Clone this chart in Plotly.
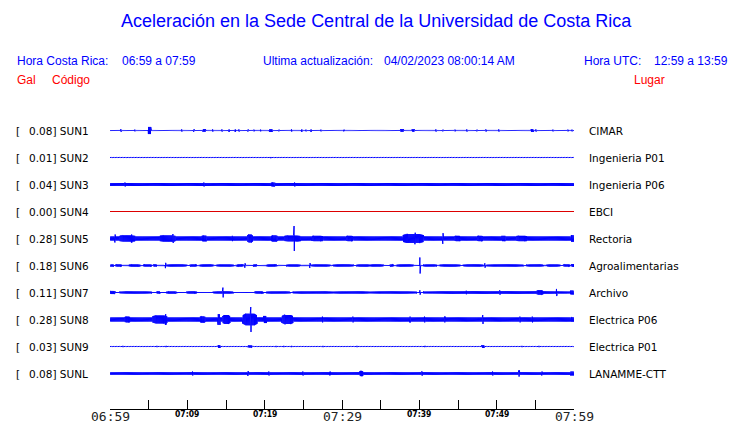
import numpy as np
import plotly.graph_objects as go

# ---------------- data ----------------
codes = ["SUN1", "SUN2", "SUN3", "SUN4", "SUN5", "SUN6", "SUN7", "SUN8", "SUN9", "SUNL"]
gal_max = [0.08, 0.01, 0.04, 0.00, 0.28, 0.18, 0.11, 0.28, 0.03, 0.08]
places = ["CIMAR", "Ingenieria P01", "Ingenieria P06", "EBCI", "Rectoria",
          "Agroalimentarias", "Archivo", "Electrica P06", "Electrica P01", "LANAMME-CTT"]
# background (noise) envelope of every trace, Gal
base_gal = [0.004, 0.002, 0.033, 0.0, 0.046, 0.008, 0.010, 0.046, 0.002, 0.028]

# envelope events: (start minute, end minute, peak Gal); minutes after 06:59
SUN1_ev = [(1.42, 1.42, 0.03), (3.23, 3.23, 0.02), (5.0, 5.25, 0.08), (9.27, 9.27, 0.025),
           (10.86, 10.86, 0.03), (12.05, 12.3, 0.03), (13.3, 13.3, 0.025), (14.5, 14.5, 0.025),
           (15.4, 15.4, 0.025), (16.2, 16.2, 0.025), (16.7, 16.7, 0.025), (17.85, 17.85, 0.025),
           (18.6, 18.6, 0.02), (19.5, 19.5, 0.02), (20.65, 20.95, 0.03), (21.85, 21.85, 0.02),
           (23.5, 23.5, 0.025), (24.8, 24.8, 0.025), (25.35, 25.35, 0.02), (26.0, 26.0, 0.025),
           (27.3, 27.3, 0.02), (30.25, 30.25, 0.02), (37.6, 37.9, 0.03), (39.1, 39.3, 0.03),
           (42.15, 42.15, 0.025), (43.05, 43.05, 0.02), (44.6, 44.6, 0.02), (46.15, 46.15, 0.025),
           (47.45, 47.45, 0.02), (48.6, 48.6, 0.025), (50.3, 50.3, 0.025), (54.45, 54.75, 0.03),
           (55.1, 55.1, 0.025), (57.3, 57.3, 0.02), (59.2, 59.2, 0.02), (59.75, 59.75, 0.02)]
SUN2_ev = [(20.8, 20.8, 0.012)]
SUN3_ev = [(1.94, 1.94, 0.045), (12.16, 12.16, 0.045), (20.9, 21.3, 0.045), (23.9, 23.9, 0.045)]
SUN4_ev = []
SUN5_ev = [(0.65, 0.65, 0.09), (1.3, 3.2, 0.07), (2.8, 2.8, 0.09), (6.5, 8.4, 0.07),
           (8.15, 8.15, 0.10), (11.9, 12.5, 0.065), (15.8, 15.8, 0.06), (17.8, 18.4, 0.09),
           (20.9, 21.6, 0.07), (22.6, 24.6, 0.065), (23.8, 23.8, 0.28), (26.1, 27.5, 0.06),
           (30.6, 31.4, 0.06), (37.9, 40.5, 0.10), (39.45, 39.45, 0.13), (43.06, 43.06, 0.12),
           (44.6, 45.3, 0.06), (47.5, 48.2, 0.06), (50.7, 51.1, 0.06), (52.6, 53.9, 0.06),
           (59.7, 60.0, 0.075)]
SUN6_ev = [(0.13, 0.43, 0.025), (0.73, 1.51, 0.025), (2.46, 3.88, 0.025), (4.31, 5.39, 0.025),
           (5.6, 6.04, 0.025), (7.2, 7.2, 0.06), (7.33, 9.92, 0.025), (10.34, 11.2, 0.025),
           (11.64, 13.36, 0.025), (13.8, 15.94, 0.025), (16.38, 17.24, 0.025), (17.46, 17.46, 0.05),
           (18.53, 18.97, 0.025), (20.26, 21.56, 0.025), (22.85, 24.57, 0.025), (25.86, 25.86, 0.055),
           (26.08, 28.45, 0.025), (28.88, 31.46, 0.025), (31.9, 33.62, 0.025), (33.62, 35.34, 0.025),
           (36.2, 36.64, 0.025), (37.07, 39.22, 0.025), (40.09, 40.09, 0.18), (40.52, 42.24, 0.025),
           (42.67, 45.26, 0.025), (45.69, 48.27, 0.025), (48.49, 48.49, 0.05), (48.7, 53.45, 0.025),
           (53.88, 56.03, 0.025), (56.47, 58.19, 0.025), (58.62, 59.49, 0.025), (59.7, 60.0, 0.03)]
SUN7_ev = [(0.0, 0.65, 0.035), (1.29, 5.39, 0.025), (6.04, 6.47, 0.025), (7.33, 8.62, 0.025),
           (9.92, 11.2, 0.025), (13.36, 15.94, 0.025), (14.6, 14.6, 0.11), (18.75, 19.83, 0.025),
           (20.26, 23.28, 0.025), (23.7, 28.88, 0.025), (28.88, 33.62, 0.025), (33.62, 39.66, 0.025),
           (40.1, 40.1, 0.05), (40.52, 59.49, 0.028), (46.1, 46.1, 0.04), (50.43, 50.43, 0.05),
           (55.17, 56.03, 0.05), (57.76, 57.76, 0.08), (59.5, 60.0, 0.045)]
SUN8_ev = [(1.94, 2.59, 0.065), (5.56, 7.37, 0.09), (7.2, 7.2, 0.12), (11.64, 12.28, 0.07),
           (13.97, 14.22, 0.12), (14.6, 15.5, 0.10), (17.2, 19.0, 0.13), (18.2, 18.2, 0.28),
           (19.9, 20.2, 0.08), (22.24, 23.66, 0.10), (22.6, 22.6, 0.11), (27.5, 27.5, 0.065),
           (31.4, 31.4, 0.065), (38.8, 38.8, 0.065), (40.7, 40.7, 0.065), (43.3, 43.3, 0.065),
           (48.2, 48.2, 0.10), (53.0, 53.0, 0.065), (54.6, 54.6, 0.065), (59.7, 60.0, 0.05)]
SUN9_ev = [(1.68, 1.68, 0.015), (6.08, 6.08, 0.015), (7.24, 7.24, 0.015), (14.0, 14.2, 0.03),
           (17.85, 18.4, 0.025), (21.47, 21.47, 0.015), (22.5, 22.5, 0.015), (23.5, 23.5, 0.015),
           (27.54, 27.54, 0.015), (31.94, 31.94, 0.015), (40.73, 40.73, 0.015), (48.1, 48.35, 0.03),
           (53.28, 53.28, 0.015), (55.48, 55.48, 0.015)]
SUNL_ev = [(10.7, 10.7, 0.045), (17.85, 17.85, 0.055), (20.56, 20.56, 0.045), (24.96, 24.96, 0.045),
           (28.45, 28.45, 0.045), (32.3, 32.7, 0.06), (40.35, 40.35, 0.05), (49.5, 49.5, 0.045),
           (52.9, 52.9, 0.07), (55.86, 55.86, 0.045), (59.6, 60.0, 0.045)]
events = [SUN1_ev, SUN2_ev, SUN3_ev, SUN4_ev, SUN5_ev, SUN6_ev, SUN7_ev, SUN8_ev, SUN9_ev, SUNL_ev]

trace_colors = ["#0000ff", "#0000ff", "#0000ff", "#dd0000", "#0000ff",
                "#0000ff", "#0000ff", "#0000ff", "#0000ff", "#0000ff"]

tick_minutes = list(range(0, 61, 5))
label_minutes = [0, 10, 20, 30, 40, 50, 60]
label_texts = ["06:59", "07:09", "07:19", "07:29", "07:39", "07:49", "07:59"]
major_ticks = ["06:59", "07:29", "07:59"]

title = "Aceleración en la Sede Central de la Universidad de Costa Rica"

# ---------------- figure ----------------
W, H = 740, 423
L, R, T, B = 110, 166, 100, 14
ROW_GAP = 1.0          # one row per station in y units
GAL_SCALE = 1.65       # y units per Gal (common amplitude scale for all traces)
PX_PER_ROW = 27.0
ROW0_PX = 130.5

step = 1.0 / 30.0
t = np.arange(0.0, 60.0 + step / 2, step)
sign = np.where(np.arange(t.size) % 2 == 0, 1.0, -1.0)

fig = go.Figure()
for i, code in enumerate(codes):
    base = base_gal[i]
    env = np.full(t.size, base)
    for (t0, t1, amp) in events[i]:
        half = (t1 - t0) / 2.0
        mid = (t0 + t1) / 2.0
        if half < 0.2:
            m = np.abs(t - mid) <= half + step * 1.01
            env[m] = np.maximum(env[m], amp)
        else:
            # burst: flat top with tapered ends
            d = np.abs(t - mid)
            m = d <= half + step
            shape = base + (amp - base) * np.clip(1.6 - d[m] / half, 0.35, 1.0)
            env[m] = np.maximum(env[m], shape)
    y = -i * ROW_GAP + GAL_SCALE * env * sign
    fig.add_trace(go.Scatter(x=t, y=y, mode="lines",
                             line=dict(color=trace_colors[i], width=1),
                             hoverinfo="skip", showlegend=False))


def px_x(x):
    return (x - L) / (W - L - R)


def px_y(y):
    return (H - B - y) / (H - T - B)


lab_font = dict(family="DejaVu Sans", size=10.5, color="black")
ann = []
for i, code in enumerate(codes):
    yrow = -i * ROW_GAP
    ann.append(dict(x=px_x(14), y=yrow, xref="paper", yref="y", text="[",
                    xanchor="left", yanchor="middle", showarrow=False, font=lab_font))
    ann.append(dict(x=px_x(27), y=yrow, xref="paper", yref="y",
                    text=f"{gal_max[i]:.2f}] {code}",
                    xanchor="left", yanchor="middle", showarrow=False, font=lab_font))
    ann.append(dict(x=px_x(587), y=yrow, xref="paper", yref="y", text=places[i],
                    xanchor="left", yanchor="middle", showarrow=False, font=lab_font))

hdr_font = dict(family="Liberation Sans", size=12, color="#0000ff")
red_font = dict(family="Liberation Sans", size=12, color="#ff0000")
for (x, y, txt, f) in [(15, 61, "Hora Costa Rica:", hdr_font), (120, 61, "06:59 a 07:59", hdr_font),
                       (261, 61, "Ultima actualización:", hdr_font),
                       (382, 61, "04/02/2023 08:00:14 AM", hdr_font),
                       (582, 61, "Hora UTC:", hdr_font), (652, 61, "12:59 a 13:59", hdr_font),
                       (15, 80, "Gal", red_font), (50, 80, "Código", red_font),
                       (632, 80, "Lugar", red_font)]:
    ann.append(dict(x=px_x(x), y=px_y(y), xref="paper", yref="paper", text=txt,
                    xanchor="left", yanchor="middle", showarrow=False, font=f))
ann.append(dict(x=px_x(376), y=px_y(21), xref="paper", yref="paper", text=title,
                xanchor="center", yanchor="middle", showarrow=False,
                font=dict(family="Liberation Sans", size=18, color="#0000ff")))

# time labels under the axis (two sizes, like the reference)
for xm, lab in zip(label_minutes, label_texts):
    if lab in major_ticks:
        f = dict(family="DejaVu Sans Mono", size=13, color="#222222")
        yc = 416
    else:
        f = dict(family="DejaVu Sans Condensed", size=8.5, color="black", weight="bold")
        yc = 414
    ann.append(dict(x=xm, y=px_y(yc), xref="x", yref="paper", text=lab,
                    xanchor="center", yanchor="middle", showarrow=False, font=f))

fig.update_layout(
    width=W, height=H,
    margin=dict(l=L, r=R, t=T, b=B, pad=0),
    paper_bgcolor="white", plot_bgcolor="white",
    annotations=ann,
    xaxis=dict(range=[0, 60], tickvals=tick_minutes, showticklabels=False,
               showgrid=False, zeroline=False, showline=True, linecolor="black",
               linewidth=1, ticks="inside", ticklen=9, tickcolor="black", tickwidth=1,
               automargin=False, fixedrange=True),
    yaxis=dict(range=[-(H - B - ROW0_PX) / PX_PER_ROW, (ROW0_PX - T) / PX_PER_ROW],
               showgrid=False, zeroline=False, showticklabels=False, showline=False,
               automargin=False, fixedrange=True),
)

fig.write_html("out.html", config={"displayModeBar": False},
               post_script="document.body.style.margin='0px';")
